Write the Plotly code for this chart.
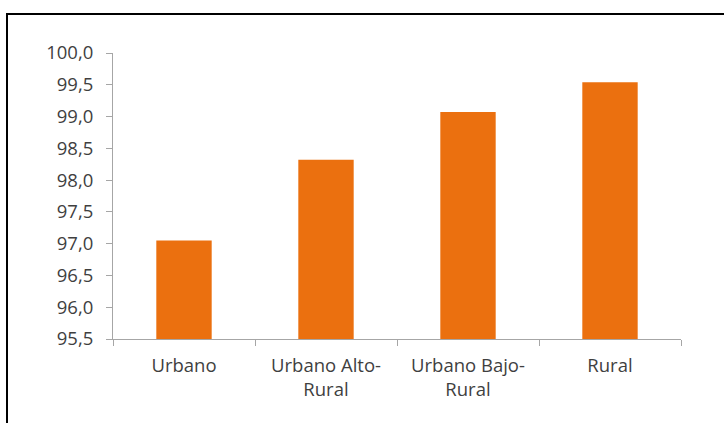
import plotly.graph_objects as go

categories = ["Urbano", "Urbano Alto-<br>Rural", "Urbano Bajo-<br>Rural", "Rural"]
values = [97.05, 98.32, 99.07, 99.54]
y_ticks = [95.5, 96.0, 96.5, 97.0, 97.5, 98.0, 98.5, 99.0, 99.5, 100.0]

W, H = 724, 423
L, R, T, B = 113, 43, 53, 84

fig = go.Figure(go.Bar(
    x=categories, y=values,
    marker=dict(color="#EB700F", line=dict(width=0)),
    width=0.39,
))

font_family = "Open Sans, Noto Sans, sans-serif"
fs = 18.5
fig.update_layout(
    width=W, height=H,
    margin=dict(l=L, r=R, t=T, b=B, pad=0),
    paper_bgcolor="white", plot_bgcolor="white",
    separators=",.",
    showlegend=False,
    font=dict(family=font_family, size=fs, color="#3F3F3F"),
    xaxis=dict(
        type="category",
        showline=True, linecolor="#A6A6A6", linewidth=1,
        ticks="outside", ticklen=6, tickcolor="#A6A6A6", tickson="boundaries",
        showgrid=False, zeroline=False,
        tickfont=dict(size=fs, color="#3F3F3F"),
        ticklabelstandoff=10,
    ),
    yaxis=dict(
        range=[95.5, 100.0],
        tickvals=y_ticks, tickformat=".1f",
        showline=True, linecolor="#A6A6A6", linewidth=1,
        ticks="outside", ticklen=6, tickcolor="#A6A6A6",
        showgrid=False, zeroline=False,
        tickfont=dict(size=fs, color="#3F3F3F"),
        ticklabelstandoff=9,
    ),
    shapes=[dict(
        type="rect", xref="paper", yref="paper",
        x0=(7 - L) / (W - L - R), x1=(W + 20 - L) / (W - L - R),
        y0=-(H + 20 - (H - B)) / (H - T - B), y1=(H - B - 14) / (H - T - B),
        line=dict(color="black", width=2), fillcolor="rgba(0,0,0,0)", layer="below",
    )],
)

fig.write_html(
    "out.html",
    config={"displayModeBar": False},
    post_script="document.body.style.margin='0';document.body.style.overflow='hidden';",
)
